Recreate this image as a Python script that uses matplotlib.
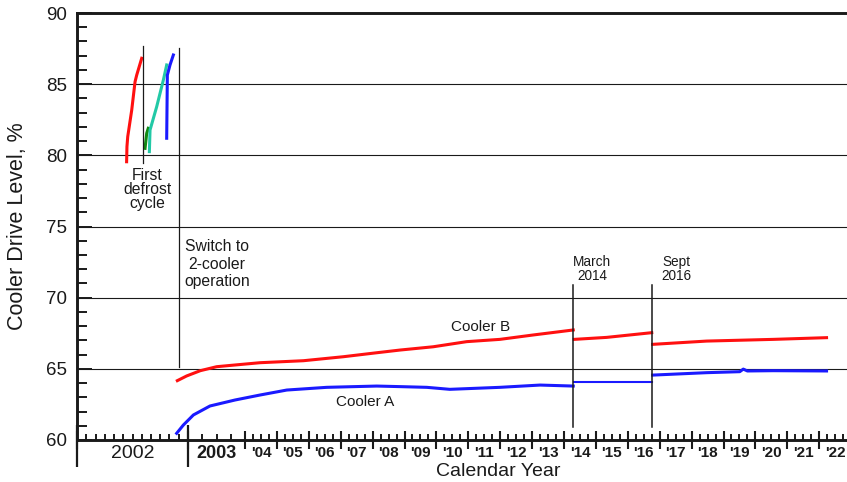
import matplotlib
matplotlib.use("Agg")
import matplotlib.pyplot as plt
import matplotlib.transforms as mtransforms
from matplotlib.ticker import FixedLocator, NullFormatter
import numpy as np

plt.rcParams["font.family"] = ["Liberation Sans", "DejaVu Sans"]

# early 2002 single-cooler runs (fractional year, drive level %)
early_red_x = [2002.447, 2002.450, 2002.457, 2002.493, 2002.523, 2002.538, 2002.583]
early_red_y = [79.55, 80.61, 81.31, 83.18, 85.17, 85.64, 86.82]
early_green_x = [2002.613, 2002.628, 2002.642]
early_green_y = [80.49, 81.55, 81.90]
early_teal_x = [2002.652, 2002.658, 2002.718, 2002.778, 2002.808]
early_teal_y = [80.26, 81.78, 83.42, 85.29, 86.35]
early_blue_x = [2002.808, 2002.814, 2002.838, 2002.868]
early_blue_y = [81.2, 85.64, 86.35, 87.05]

# two-cooler operation, Cooler B (red), in three pieces
b1_x = [2002.904, 2002.988, 2003.216, 2003.503, 2003.825, 2004.47, 2005.83, 2007.08,
        2008.13, 2008.86, 2009.90, 2010.95, 2011.99, 2013.04, 2014.29]
b1_y = [64.17, 64.50, 64.87, 65.15, 65.27, 65.43, 65.57, 65.85,
        66.13, 66.32, 66.55, 66.91, 67.07, 67.38, 67.73]
b2_x = [2014.32, 2015.34, 2016.75]
b2_y = [67.07, 67.21, 67.54]
b3_x = [2016.78, 2018.47, 2020.56, 2022.23]
b3_y = [66.72, 66.95, 67.07, 67.19]

# Cooler A (blue)
a1_x = [2002.898, 2002.958, 2003.095, 2003.386, 2003.825, 2004.47, 2005.31, 2006.56,
        2008.13, 2008.86, 2009.70, 2010.42, 2011.99, 2013.25, 2014.29]
a1_y = [60.47, 61.05, 61.76, 62.39, 62.81, 63.16, 63.51, 63.70,
        63.79, 63.75, 63.70, 63.56, 63.70, 63.86, 63.79]
a2_x = [2014.30, 2016.75]
a2_y = [64.05, 64.05]
a3_x = [2016.78, 2018.47, 2019.51, 2019.62, 2019.75, 2020.56, 2022.23]
a3_y = [64.56, 64.73, 64.80, 64.98, 64.85, 64.87, 64.85]

year_labels = ["2002", "2003"] + [f"'{y % 100:02d}" for y in range(2004, 2023)]
y_ticks = [60, 65, 70, 75, 80, 85, 90]

# x axis: 2002 spread by month, 2003 by quarter, then equal slots per year
SCALE_YEARS = [2002.0, 2003.0, 2004.0, 2030.0]
SCALE_UNITS = [0.0, 111.0, 168.0, 168.0 + 26 * 31.9]


def fwd(x):
    return np.interp(x, SCALE_YEARS, SCALE_UNITS)


def inv(u):
    return np.interp(u, SCALE_UNITS, SCALE_YEARS)


fig = plt.figure(figsize=(8.47, 4.82), dpi=100)
ax = fig.add_axes([77 / 847, 42 / 482, 770 / 847, 427 / 482])
ax.set_xscale("function", functions=(fwd, inv))
ax.set_xlim(2002.0, inv(770.0))
ax.set_ylim(60, 90)

ink = "#1a1a1a"
for s in ("left", "bottom", "top"):
    ax.spines[s].set_linewidth(2.1)
    ax.spines[s].set_color(ink)
ax.spines["right"].set_visible(False)

# y axis
ax.yaxis.set_major_locator(FixedLocator(y_ticks))
ax.yaxis.set_minor_locator(FixedLocator(np.arange(60, 91, 1)))
ax.tick_params(axis="y", which="major", direction="in", length=11, width=1.4,
               labelsize=13.5, pad=7, colors=ink)
ax.tick_params(axis="y", which="minor", direction="in", length=7, width=1.4, colors=ink)
ax.yaxis.grid(True, which="major", color=ink, linewidth=0.8)

# x axis
major_x = np.arange(2002, 2023)
minor_x = [2002 + k / 12 for k in range(1, 12)]
minor_x += [y + q / 4 for y in range(2003, 2023) for q in (1, 2, 3)]
ax.xaxis.set_major_locator(FixedLocator(major_x))
ax.xaxis.set_minor_locator(FixedLocator(minor_x))
ax.xaxis.set_major_formatter(NullFormatter())
ax.tick_params(axis="x", which="major", direction="inout", length=13, width=1.5, colors=ink)
ax.tick_params(axis="x", which="minor", direction="in", length=4.5, width=1.4, colors=ink)

bx = mtransforms.blended_transform_factory(ax.transData, ax.transAxes)
for yr in (2002, 2003):
    ax.plot([yr, yr], [-27 / 427, 15 / 427], transform=bx, color=ink, lw=1.6,
            clip_on=False, solid_capstyle="butt")

for i, lab in enumerate(year_labels):
    yr = 2002 + i
    if i == 0:
        kw = dict(fontsize=14)
    elif i == 1:
        kw = dict(fontsize=13, fontweight="bold")
    else:
        kw = dict(fontsize=11, fontweight="bold")
    ax.text(yr + 0.5, -13 / 427, lab, transform=bx, ha="center", va="center",
            color=ink, **kw)

# data
lw = 2.2
ax.plot(early_red_x, early_red_y, color="#ff1010", lw=lw)
ax.plot(early_green_x, early_green_y, color="#138a13", lw=lw)
ax.plot(early_teal_x, early_teal_y, color="#22c9a6", lw=lw)
ax.plot(early_blue_x, early_blue_y, color="#1a1aff", lw=lw)

for xs, ys in ((b1_x, b1_y), (b2_x, b2_y), (b3_x, b3_y)):
    ax.plot(xs, ys, color="#ff1010", lw=lw)
ax.plot(a1_x, a1_y, color="#1a1aff", lw=lw)
ax.plot(a2_x, a2_y, color="#1a1aff", lw=1.5)
ax.plot(a3_x, a3_y, color="#1a1aff", lw=lw)

# event markers
ax.plot([2002.598, 2002.598], [79.46, 87.68], color=ink, lw=0.9)
ax.plot([2002.919, 2002.919], [65.13, 87.54], color=ink, lw=0.9)
ax.plot([2014.29, 2014.29], [60.9, 70.9], color=ink, lw=1.1)
ax.plot([2016.76, 2016.76], [60.9, 70.9], color=ink, lw=1.1)

ax.text(2002.635, 77.6, "First\ndefrost\ncycle", ha="center", va="center",
        fontsize=11.3, linespacing=0.95, color=ink)
ax.text(2003.51, 72.36, "Switch to\n2-cooler\noperation", ha="center", va="center",
        fontsize=11.3, multialignment="center", color=ink)
ax.text(2014.88, 72.0, "March\n2014", ha="center", va="center",
        fontsize=9.8, linespacing=1.0, color=ink)
ax.text(2017.51, 72.0, "Sept\n2016", ha="center", va="center",
        fontsize=9.8, linespacing=1.0, color=ink)
ax.text(2011.37, 67.93, "Cooler B", ha="center", va="center", fontsize=11, color=ink)
ax.text(2007.76, 62.66, "Cooler A", ha="center", va="center", fontsize=11, color=ink)

fig.text(18 / 847, 1 - 226 / 482, "Cooler Drive Level, %", rotation=90,
         ha="center", va="center", fontsize=15.5, color=ink)
fig.text(498 / 847, 1 - 471 / 482, "Calendar Year", ha="center", va="center",
         fontsize=14, color=ink)

fig.savefig("out.png", dpi=100)
